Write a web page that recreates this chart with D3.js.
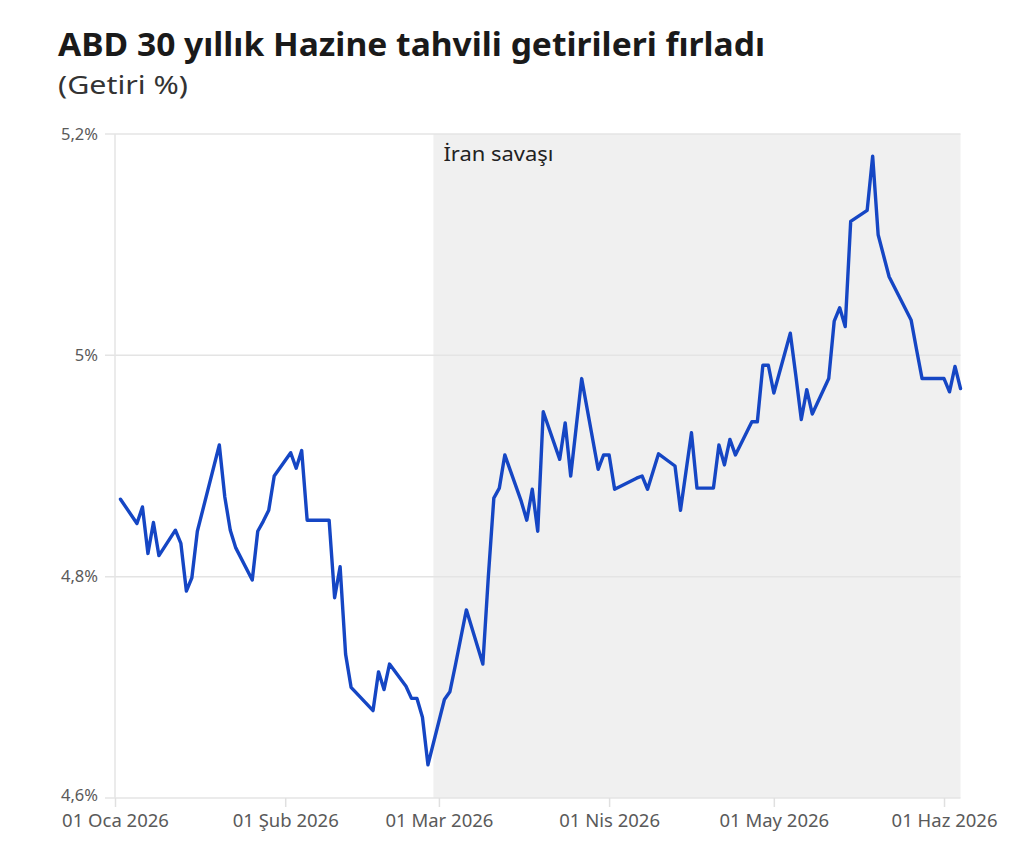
<!DOCTYPE html>
<html lang="tr">
<head>
<meta charset="utf-8">
<script src="https://cdn.jsdelivr.net/npm/d3@7"></script>
<style>
  html, body { margin: 0; padding: 0; background: #fff; }
  svg { display: block; font-family: "Noto Sans", "Open Sans", sans-serif; }
</style>
</head>
<body>
<svg id="chart"></svg>
<script>
// ABD 30 yıllık tahvil getirisi, işlem günleri (2026)
const dates = [
  "2026-01-02","2026-01-05","2026-01-06","2026-01-07","2026-01-08","2026-01-09",
  "2026-01-12","2026-01-13","2026-01-14","2026-01-15","2026-01-16",
  "2026-01-20","2026-01-21","2026-01-22","2026-01-23",
  "2026-01-26","2026-01-27","2026-01-28","2026-01-29","2026-01-30",
  "2026-02-02","2026-02-03","2026-02-04","2026-02-05","2026-02-06",
  "2026-02-09","2026-02-10","2026-02-11","2026-02-12","2026-02-13",
  "2026-02-17","2026-02-18","2026-02-19","2026-02-20",
  "2026-02-23","2026-02-24","2026-02-25","2026-02-26","2026-02-27",
  "2026-03-02","2026-03-03","2026-03-04","2026-03-05","2026-03-06",
  "2026-03-09","2026-03-10","2026-03-11","2026-03-12","2026-03-13",
  "2026-03-16","2026-03-17","2026-03-18","2026-03-19","2026-03-20",
  "2026-03-23","2026-03-24","2026-03-25","2026-03-26","2026-03-27",
  "2026-03-30","2026-03-31","2026-04-01","2026-04-02",
  "2026-04-06","2026-04-07","2026-04-08","2026-04-09","2026-04-10",
  "2026-04-13","2026-04-14","2026-04-15","2026-04-16","2026-04-17",
  "2026-04-20","2026-04-21","2026-04-22","2026-04-23","2026-04-24",
  "2026-04-27","2026-04-28","2026-04-29","2026-04-30","2026-05-01",
  "2026-05-04","2026-05-05","2026-05-06","2026-05-07","2026-05-08",
  "2026-05-11","2026-05-12","2026-05-13","2026-05-14","2026-05-15",
  "2026-05-18","2026-05-19","2026-05-20","2026-05-21","2026-05-22",
  "2026-05-26","2026-05-27","2026-05-28","2026-05-29",
  "2026-06-01","2026-06-02","2026-06-03","2026-06-04"
];
const yields = [
  4.870, 4.848, 4.863, 4.821, 4.849, 4.819,
  4.842, 4.830, 4.787, 4.799, 4.841,
  4.919, 4.872, 4.842, 4.826,
  4.797, 4.841, 4.850, 4.860, 4.891,
  4.912, 4.898, 4.914, 4.851, 4.851,
  4.851, 4.781, 4.809, 4.730, 4.700,
  4.679, 4.714, 4.698, 4.721,
  4.701, 4.690, 4.690, 4.673, 4.630,
  4.689, 4.696, 4.720, 4.745, 4.770,
  4.721, 4.800, 4.871, 4.880, 4.910,
  4.868, 4.851, 4.879, 4.841, 4.949,
  4.906, 4.939, 4.891, 4.935, 4.979,
  4.897, 4.910, 4.910, 4.879,
  4.889, 4.891, 4.879, 4.895, 4.911,
  4.900, 4.860, 4.895, 4.930, 4.880,
  4.880, 4.919, 4.901, 4.924, 4.910,
  4.940, 4.940, 4.991, 4.991, 4.966,
  5.020, 4.982, 4.942, 4.969, 4.947,
  4.979, 5.031, 5.043, 5.026, 5.121,
  5.131, 5.180, 5.109, 5.090, 5.071,
  5.032, 5.005, 4.979, 4.979,
  4.979, 4.967, 4.990, 4.970
];

const xTickDates = ["2026-01-01","2026-02-01","2026-03-01","2026-04-01","2026-05-01","2026-06-01"];
const xTickLabels = ["01 Oca 2026","01 Şub 2026","01 Mar 2026","01 Nis 2026","01 May 2026","01 Haz 2026"];
const yTicks = [4.6, 4.8, 5.0, 5.2];
const yTickLabels = ["4,6%", "4,8%", "5%", "5,2%"];

const warStart = "2026-02-28";
const warLabel = "İran savaşı";
const title = "ABD 30 yıllık Hazine tahvili getirileri fırladı";
const subtitle = "(Getiri %)";

const width = 1024, height = 842;
const parse = d3.utcParse("%Y-%m-%d");
const data = dates.map((d, i) => ({ date: parse(d), value: yields[i] }));

const svg = d3.select("#chart").attr("width", width).attr("height", height);

const x = d3.scaleUtc()
  .domain([parse("2026-01-01"), parse("2026-06-04")])
  .range([115, 960.5]);
const y = d3.scaleLinear().domain([4.6, 5.2]).range([798, 134]);

// savaş dönemi gölgesi
svg.append("rect")
  .attr("x", x(parse(warStart)))
  .attr("y", y(5.2))
  .attr("width", x.range()[1] - x(parse(warStart)))
  .attr("height", y(4.6) - y(5.2))
  .attr("fill", "#f0f0f0");

// yatay ızgara
svg.append("g").selectAll("line")
  .data(yTicks)
  .join("line")
  .attr("x1", 105).attr("x2", x.range()[1])
  .attr("y1", d => y(d)).attr("y2", d => y(d))
  .attr("stroke", "#e4e4e4").attr("stroke-width", 1.5);

// dikey eksen çizgisi
svg.append("line")
  .attr("x1", 115).attr("x2", 115)
  .attr("y1", y(5.2)).attr("y2", y(4.6))
  .attr("stroke", "#e4e4e4").attr("stroke-width", 1.5);

svg.append("g").selectAll("text")
  .data(yTicks)
  .join("text")
  .attr("x", 98)
  .attr("y", d => y(d))
  .attr("dy", d => d === 4.6 ? "0.2em" : "0.35em")
  .attr("text-anchor", "end")
  .attr("font-size", 16.5)
  .attr("fill", "#5a5a5a")
  .text((d, i) => yTickLabels[i]);

// x ekseni
const xAxis = d3.axisBottom(x)
  .tickValues(xTickDates.map(parse))
  .tickFormat((d, i) => xTickLabels[i])
  .tickSize(9)
  .tickPadding(7);

const gx = svg.append("g")
  .attr("transform", `translate(0,${y(4.6)})`)
  .call(xAxis);
gx.select(".domain").remove();
gx.selectAll(".tick line").attr("stroke", "#e0e0e0").attr("stroke-width", 1.5);
gx.selectAll(".tick text")
  .attr("font-family", "Noto Sans, Open Sans, sans-serif")
  .attr("font-size", 18.5)
  .attr("fill", "#5a5a5a");

// çizgi
const line = d3.line()
  .x(d => x(d.date))
  .y(d => y(d.value));

svg.append("path")
  .datum(data)
  .attr("d", line)
  .attr("fill", "none")
  .attr("stroke", "#1546c4")
  .attr("stroke-width", 3.4)
  .attr("stroke-linejoin", "round")
  .attr("stroke-linecap", "round");

// etiket
svg.append("text")
  .attr("x", x(parse(warStart)) + 10)
  .attr("y", 161)
  .attr("font-size", 19)
  .attr("textLength", 110)
  .attr("lengthAdjust", "spacingAndGlyphs")
  .attr("fill", "#222")
  .text(warLabel);

// başlıklar
svg.append("text")
  .attr("x", 58).attr("y", 56)
  .attr("font-size", 32)
  .attr("font-weight", 700)
  .attr("textLength", 707)
  .attr("lengthAdjust", "spacingAndGlyphs")
  .attr("fill", "#1a1a1a")
  .text(title);

svg.append("text")
  .attr("x", 58).attr("y", 94)
  .attr("font-size", 26)
  .attr("textLength", 130)
  .attr("lengthAdjust", "spacingAndGlyphs")
  .attr("fill", "#333")
  .text(subtitle);
</script>
</body>
</html>
